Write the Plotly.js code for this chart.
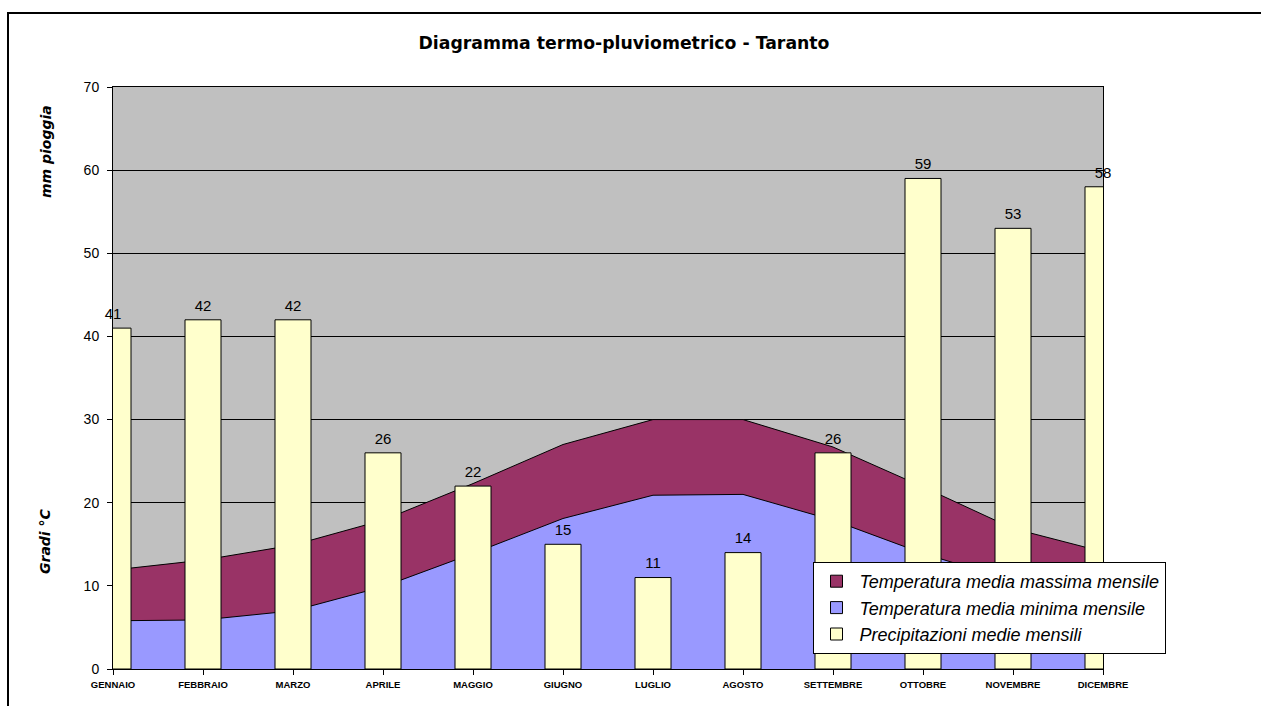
<!DOCTYPE html>
<html>
<head>
<meta charset="utf-8">
<script src="https://cdn.plot.ly/plotly-3.0.1.min.js"></script>
<style>
  html, body { margin: 0; padding: 0; background: #fff; }
  #wrap { position: relative; width: 1261px; height: 706px; overflow: hidden; }
  #chart { position: absolute; left: 0; top: 0; width: 1261px; height: 706px; }
  #frame { position: absolute; left: 7px; top: 12px; right: 0; bottom: 0;
           border-top: 2px solid #000; border-left: 2px solid #000; pointer-events: none; }
</style>
</head>
<body>
<div id="wrap">
  <div id="chart"></div>
  <div id="frame"></div>
</div>
<script>
// ---- data ----
const months = ['GENNAIO','FEBBRAIO','MARZO','APRILE','MAGGIO','GIUGNO','LUGLIO','AGOSTO','SETTEMBRE','OTTOBRE','NOVEMBRE','DICEMBRE'];
const tMax = [11.9, 13.1, 14.9, 17.9, 22.3, 27.0, 30.0, 30.0, 26.7, 21.9, 16.9, 14.1];
const tMin = [5.8, 5.9, 7.0, 9.9, 13.9, 18.1, 20.9, 21.0, 17.9, 13.9, 10.6, 7.5];
const rain = [41, 42, 42, 26, 22, 15, 11, 14, 26, 59, 53, 58];
const seriesNames = ['Temperatura media massima mensile', 'Temperatura media minima mensile', 'Precipitazioni medie mensili'];
const titleText = 'Diagramma termo-pluviometrico - Taranto';
const yTitleRain = 'mm pioggia';
const yTitleTemp = 'Gradi °C';

// ---- styles ----
const cMax = '#993366', cMin = '#9999FF', cRain = '#FFFFCC';
const W = 1261, H = 706;
const L = 113, R = 1103, T = 87, B = 669;

const traces = [
  { type: 'scatter', x: months, y: tMax, mode: 'lines', fill: 'tozeroy',
    fillcolor: cMax, line: { color: '#000', width: 1 }, showlegend: false, hoverinfo: 'skip' },
  { type: 'scatter', x: months, y: tMin, mode: 'lines', fill: 'tozeroy',
    fillcolor: cMin, line: { color: '#000', width: 1 }, showlegend: false, hoverinfo: 'skip' },
  // legend entries for the areas (no marks)
  { type: 'bar', x: [null], y: [null], name: seriesNames[0], xaxis: 'x2', yaxis: 'y2',
    marker: { color: cMax, line: { color: '#000', width: 1 } } },
  { type: 'bar', x: [null], y: [null], name: seriesNames[1], xaxis: 'x2', yaxis: 'y2',
    marker: { color: cMin, line: { color: '#000', width: 1 } } },
  { type: 'bar', x: months, y: rain, name: seriesNames[2], xaxis: 'x2', yaxis: 'y2', width: 0.4,
    marker: { color: cRain, line: { color: '#000', width: 1 } }, hoverinfo: 'skip' },
  { type: 'scatter', x: months, y: rain, mode: 'markers+text', text: rain.map(String),
    textposition: 'top center', xaxis: 'x2', yaxis: 'y2', cliponaxis: false,
    marker: { size: 7, color: 'rgba(0,0,0,0)' },
    textfont: { family: 'Liberation Sans, Arial, sans-serif', size: 15, color: '#000' },
    showlegend: false, hoverinfo: 'skip' }
];

const layout = {
  width: W, height: H,
  margin: { l: L, r: W - R, t: T, b: H - B, pad: 0 },
  paper_bgcolor: 'rgba(0,0,0,0)',
  plot_bgcolor: '#C0C0C0',
  barmode: 'overlay',
  showlegend: true,
  title: {
    text: titleText, xref: 'container', x: 624 / W, xanchor: 'center',
    yref: 'container', y: 1 - 43 / H, yanchor: 'middle',
    font: { family: 'DejaVu Sans, sans-serif', size: 17.3, weight: 'bold', color: '#000' }
  },
  xaxis: {
    type: 'category', range: [0, 11], showgrid: false, zeroline: false,
    showline: true, linecolor: '#000', linewidth: 1, mirror: true,
    ticks: 'outside', ticklen: 5, tickcolor: '#000', tickwidth: 1,
    ticklabelstandoff: 2,
    tickfont: { family: 'Liberation Sans, Arial, sans-serif', size: 9.5, weight: 'bold', color: '#000' },
    fixedrange: true
  },
  yaxis: {
    range: [0, 70], dtick: 10, showgrid: true, gridcolor: '#000', gridwidth: 1,
    zeroline: false, showline: true, linecolor: '#000', linewidth: 1, mirror: true,
    ticks: 'outside', ticklen: 5, tickcolor: '#000', tickwidth: 1,
    ticklabelstandoff: 5,
    tickfont: { family: 'Liberation Sans, Arial, sans-serif', size: 14, color: '#000' },
    fixedrange: true
  },
  xaxis2: { type: 'category', overlaying: 'x', range: [0, 11], visible: false, fixedrange: true },
  yaxis2: { overlaying: 'y', range: [0, 70], visible: false, fixedrange: true },
  legend: {
    x: (812.5 - L) / (R - L), y: (B - 562) / (B - T), xanchor: 'left', yanchor: 'top',
    bgcolor: '#FFFFFF', bordercolor: '#000', borderwidth: 1,
    font: { family: 'Liberation Sans, Arial, sans-serif', size: 18, style: 'italic', color: '#000' },
    traceorder: 'normal', tracegroupgap: 0, itemwidth: 36
  },
  annotations: [
    { text: yTitleRain, xref: 'paper', yref: 'paper', x: (46 - L) / (R - L), y: (B - 152) / (B - T),
      showarrow: false, textangle: -90, xanchor: 'center', yanchor: 'middle',
      font: { family: 'DejaVu Sans, sans-serif', size: 14, weight: 'bold', style: 'italic', color: '#000' } },
    { text: yTitleTemp, xref: 'paper', yref: 'paper', x: (45 - L) / (R - L), y: (B - 541) / (B - T),
      showarrow: false, textangle: -90, xanchor: 'center', yanchor: 'middle',
      font: { family: 'DejaVu Sans, sans-serif', size: 14, weight: 'bold', style: 'italic', color: '#000' } }
  ]
};

Plotly.newPlot('chart', traces, layout, { displayModeBar: false, staticPlot: true });
</script>
</body>
</html>
